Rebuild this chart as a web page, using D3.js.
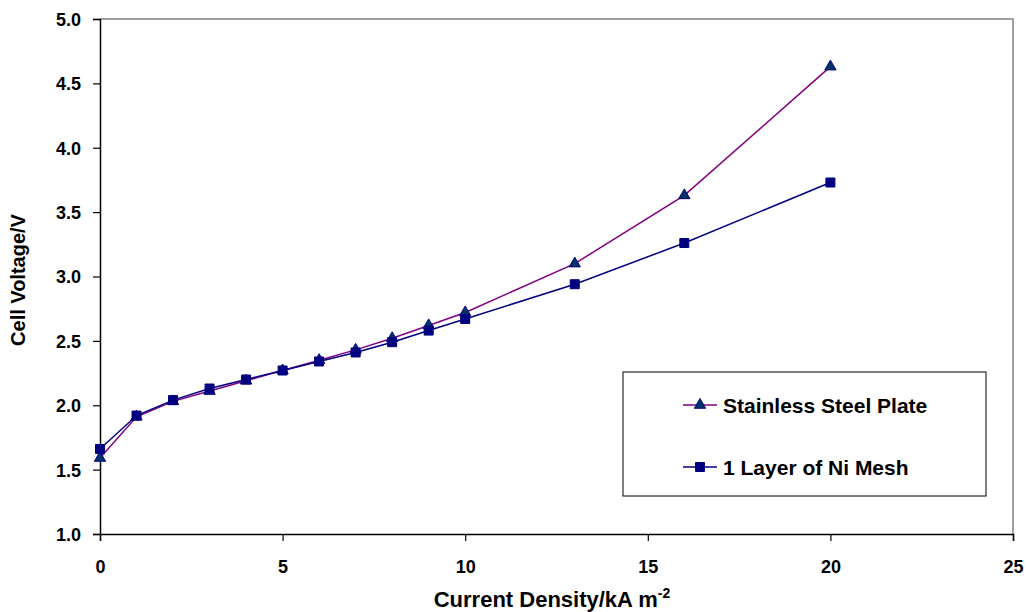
<!DOCTYPE html>
<html>
<head>
<meta charset="utf-8">
<script src="https://cdn.jsdelivr.net/npm/d3@7/dist/d3.min.js"></script>
<style>
  html, body { margin: 0; padding: 0; background: #fff; }
  svg { display: block; font-family: "Liberation Sans", Arial, sans-serif; }
</style>
</head>
<body>
<svg id="chart" width="1028" height="612"></svg>
<script>
// Current density (kA m^-2)
const currentDensity = [0, 1, 2, 3, 4, 5, 6, 7, 8, 9, 10, 13, 16, 20];
// Cell voltage (V) for each electrode type
const stainlessSteel = [1.59, 1.91, 2.03, 2.11, 2.19, 2.27, 2.35, 2.43, 2.52, 2.62, 2.72, 3.10, 3.63, 4.63];
const niMesh = [1.66, 1.92, 2.04, 2.13, 2.20, 2.27, 2.34, 2.41, 2.49, 2.58, 2.67, 2.94, 3.26, 3.73];
const seriesNames = ["Stainless Steel Plate", "1 Layer of Ni Mesh"];
const xTicks = [0, 5, 10, 15, 20, 25];
const yTicks = [1.0, 1.5, 2.0, 2.5, 3.0, 3.5, 4.0, 4.5, 5.0];

const svg = d3.select("#chart");
const plotLeft = 100, plotRight = 1013, plotTop = 19, plotBottom = 534;

const x = d3.scaleLinear().domain([0, 25]).range([plotLeft, plotRight]);
const y = d3.scaleLinear().domain([1, 5]).range([plotBottom, plotTop]);

// Plot frame (top and right edges)
svg.append("path")
  .attr("d", `M${plotLeft},${plotTop}H${plotRight}V${plotBottom}`)
  .attr("fill", "none").attr("stroke", "#808080").attr("stroke-width", 1.5);

// Axes
const xAxis = svg.append("g").attr("transform", `translate(0,${plotBottom})`)
  .call(d3.axisBottom(x).tickValues(xTicks).tickFormat(d3.format("d")).tickSizeOuter(0).tickSize(7));
const yAxis = svg.append("g").attr("transform", `translate(${plotLeft},0)`)
  .call(d3.axisLeft(y).tickValues(yTicks).tickFormat(d3.format(".1f")).tickSizeOuter(0).tickSize(7).tickPadding(12));
[xAxis, yAxis].forEach(g => {
  g.select(".domain").attr("stroke", "#000").attr("stroke-width", 1.5);
  g.selectAll(".tick line").attr("stroke", "#000").attr("stroke-width", 1.2);
  g.selectAll(".tick text").attr("fill", "#000").style("font-size", "18px").style("font-weight", "bold")
    .style("font-family", '"Liberation Sans", Arial, sans-serif');
});
xAxis.selectAll(".tick text").attr("y", 39).attr("dy", 0);
yAxis.selectAll(".tick text").attr("dy", "0.36em");

// Axis titles
const xTitle = svg.append("text")
  .attr("x", 552).attr("y", 607).attr("text-anchor", "middle")
  .style("font-size", "22px").style("font-weight", "bold");
xTitle.append("tspan").text("Current Density/kA m");
xTitle.append("tspan").attr("dy", -9).style("font-size", "14px").text("-2");
svg.append("text")
  .attr("transform", "translate(25,280) rotate(-90)").attr("text-anchor", "middle")
  .style("font-size", "20px").style("font-weight", "bold")
  .text("Cell Voltage/V");

const series = [
  { name: seriesNames[0], values: stainlessSteel, line: "#800080", marker: "triangle" },
  { name: seriesNames[1], values: niMesh, line: "#000080", marker: "square" }
];

const line = d3.line().x(d => x(d[0])).y(d => y(d[1]));
const triangle = d3.symbol().type(d3.symbolTriangle).size(55);
const square = d3.symbol().type(d3.symbolSquare).size(81);

function drawMarker(g, kind, cx, cy) {
  if (kind === "triangle") {
    g.append("path").attr("d", triangle()).attr("transform", `translate(${cx},${cy})`)
      .attr("fill", "#003366").attr("stroke", "#000080").attr("stroke-width", 1);
  } else {
    g.append("path").attr("d", square()).attr("transform", `translate(${cx},${cy})`)
      .attr("fill", "#000080").attr("stroke", "#000080").attr("stroke-width", 1);
  }
}

series.forEach(s => {
  const pts = currentDensity.map((c, i) => [c, s.values[i]]);
  svg.append("path").datum(pts).attr("d", line)
    .attr("fill", "none").attr("stroke", s.line).attr("stroke-width", 1.5);
});
series.forEach(s => {
  const g = svg.append("g");
  currentDensity.forEach((c, i) => drawMarker(g, s.marker, x(c), y(s.values[i])));
});

// Legend
const legend = svg.append("g");
legend.append("rect").attr("x", 623).attr("y", 372).attr("width", 363).attr("height", 124)
  .attr("fill", "#fff").attr("stroke", "#000").attr("stroke-width", 1);
series.forEach((s, i) => {
  const ly = 405 + i * 62;
  legend.append("line").attr("x1", 683).attr("x2", 717).attr("y1", ly).attr("y2", ly)
    .attr("stroke", s.line).attr("stroke-width", 1.5);
  drawMarker(legend, s.marker, 700, ly);
  legend.append("text").attr("x", 723).attr("y", ly).attr("dy", "0.36em")
    .style("font-size", "21px").style("font-weight", "bold").text(s.name);
});
</script>
</body>
</html>
